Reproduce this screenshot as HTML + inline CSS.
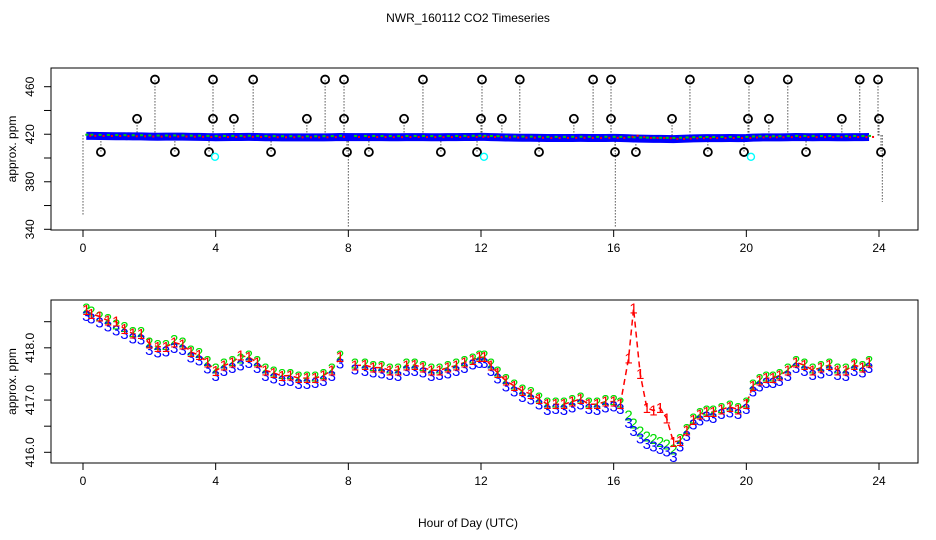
<!DOCTYPE html>
<html><head><meta charset="utf-8"><style>
body{margin:0;background:#fff}
svg{display:block;font-family:"Liberation Sans",sans-serif}
</style></head><body>
<svg id="c" width="936" height="540" viewBox="0 0 936 540">
<text x="468" y="22" text-anchor="middle" font-size="12">NWR_160112  CO2 Timeseries</text>
<text x="468" y="527" text-anchor="middle" font-size="12">Hour of Day (UTC)</text>
<g id="top"></g>
<g id="bot"></g>
</svg>
<script>
const xTicks=[0,4,8,12,16,20,24];
const topTicks=[340,360,380,400,420,440,460];
const topLabels=[340,380,420,460];
const botTicks=[416,416.5,417,417.5,418,418.5];
const botLabels=[416,417,418];
const hours=[0.1,0.25,0.5,0.75,1,1.25,1.5,1.75,2,2.25,2.5,2.75,3,3.25,3.5,3.75,4,4.25,4.5,4.75,5,5.25,5.5,5.75,6,6.25,6.5,6.75,7,7.25,7.5,7.75,
8.2,8.5,8.75,9,9.25,9.5,9.75,10,10.25,10.5,10.75,11,11.25,11.5,11.75,11.95,
12.1,12.3,12.5,12.75,13,13.25,13.5,13.75,14,14.25,14.5,14.75,15,15.25,15.5,15.75,16,16.2,
16.45,16.6,16.8,17,17.2,17.4,17.6,17.8,18,18.2,18.4,18.6,18.8,19,19.25,19.5,19.75,20,20.2,20.4,20.6,20.8,21,21.25,21.5,21.75,22,22.25,22.5,22.75,23,23.25,23.5,23.7];
const green=[418.75,418.7,418.6,418.55,418.45,418.4,418.3,418.3,418.1,418.05,418.05,418.15,418.1,417.95,417.9,417.75,417.6,417.7,417.75,417.8,417.85,417.75,417.6,417.55,417.5,417.5,417.45,417.45,417.45,417.5,417.6,417.85,
417.7,417.7,417.65,417.65,417.6,417.6,417.7,417.7,417.65,417.6,417.6,417.65,417.7,417.75,417.8,417.85,
417.85,417.7,417.55,417.4,417.3,417.2,417.15,417.05,416.95,416.95,416.95,417.0,417.05,416.95,416.95,417.0,417.0,416.95,
416.7,416.55,416.4,416.3,416.25,416.2,416.15,416.05,416.25,416.45,416.65,416.75,416.8,416.8,416.85,416.9,416.85,416.95,417.3,417.4,417.45,417.45,417.5,417.6,417.75,417.7,417.6,417.65,417.7,417.6,417.6,417.7,417.65,417.75];
const blue=[418.63,418.58,418.5,418.43,418.35,418.28,418.2,418.18,417.98,417.93,417.95,418.02,417.98,417.83,417.78,417.62,417.48,417.58,417.63,417.68,417.73,417.63,417.48,417.43,417.38,417.38,417.33,417.33,417.35,417.38,417.48,417.72,
417.6,417.58,417.55,417.53,417.5,417.48,417.58,417.58,417.55,417.48,417.5,417.53,417.58,417.63,417.7,417.73,
417.73,417.58,417.43,417.28,417.18,417.08,417.03,416.93,416.83,416.85,416.83,416.88,416.93,416.85,416.83,416.88,416.9,416.85,
416.58,416.43,416.28,416.18,416.13,416.08,416.03,415.93,416.13,416.33,416.55,416.63,416.7,416.68,416.75,416.78,416.75,416.85,417.18,417.28,417.35,417.35,417.38,417.48,417.63,417.58,417.5,417.53,417.58,417.5,417.48,417.58,417.55,417.63];
const red=[418.72,418.65,418.6,418.52,418.5,418.36,418.27,418.26,418.08,418.02,418.02,418.1,418.06,417.92,417.86,417.72,417.56,417.66,417.72,417.85,417.82,417.72,417.57,417.52,417.46,417.47,417.42,417.42,417.42,417.47,417.57,417.82,
417.66,417.67,417.62,417.62,417.57,417.57,417.66,417.67,417.62,417.57,417.57,417.62,417.66,417.72,417.77,417.82,
417.82,417.66,417.52,417.37,417.27,417.17,417.12,417.02,416.92,416.92,416.92,416.97,417.02,416.92,416.92,416.97,416.97,416.92,
417.8,418.75,417.5,416.85,416.8,416.85,416.65,416.2,416.22,416.42,416.62,416.72,416.77,416.77,416.82,416.87,416.82,416.92,417.27,417.37,417.42,417.42,417.47,417.57,417.72,417.67,417.57,417.62,417.67,417.57,417.57,417.67,417.62,417.72];
const spikeHours=[0.54,1.63,2.17,2.77,3.80,3.92,3.92,4.55,5.13,5.67,6.75,7.30,7.87,7.87,7.96,8.62,9.68,10.25,10.79,11.88,12.0,12.03,12.63,13.17,13.75,14.80,15.38,15.92,15.92,16.04,16.67,17.76,18.30,18.84,19.93,20.05,20.08,20.68,21.25,21.80,22.88,23.42,23.97,24.0,24.06];
const spikeVals=[405,433,466,405,405,433,466,433,466,405,433,466,466,433,405,405,433,466,405,405,433,466,433,466,405,433,466,466,433,405,405,433,466,405,405,433,466,433,466,405,433,466,466,433,405];
const cyanHours=[3.98,12.09,20.14];
const cyanVals=[401,401,401];
const tailHours=[0.0,8.0,16.05,24.1];
const tailVals=[351,342,342,363];

const NS='http://www.w3.org/2000/svg';
function mk(p,t,a){const e=document.createElementNS(NS,t);for(const k in a)e.setAttribute(k,a[k]);p.appendChild(e);return e;}
const X=h=>83+h*(796/24);
const YT=v=>86.7+(460-v)*(142.6/120);
const YB=v=>452.3-(v-416)*(130.6/2.5);
const left=51,right=918;

function panel(g,top,bot,ys,ticks,labels,fmt){
  const r=mk(g,'rect',{x:left,y:top,width:right-left,height:bot-top,fill:'none',stroke:'#000','stroke-width':1});
  
  ticks.forEach(t=>{const l=mk(g,'line',{x1:left,x2:left-7,y1:ys(t),y2:ys(t),stroke:'#000'});});
  labels.forEach(t=>{const y=ys(t);const tx=mk(g,'text',{x:34,y:y,'font-size':12,'text-anchor':'middle',transform:`rotate(-90 34 ${y})`});tx.textContent=fmt(t);});
  xTicks.forEach(h=>{const l=mk(g,'line',{x1:X(h),x2:X(h),y1:bot,y2:bot+7,stroke:'#000'});
    const tx=mk(g,'text',{x:X(h),y:bot+22,'font-size':12,'text-anchor':'middle'});tx.textContent=h;});
  const yc=(top+bot)/2;
  const at=mk(g,'text',{x:16,y:yc,'font-size':12,'text-anchor':'middle',transform:`rotate(-90 16 ${yc})`});at.textContent='approx. ppm';
  
}
const gt=document.getElementById('top'),gb=document.getElementById('bot');
panel(gt,68,230,YT,topTicks,topLabels,t=>t);
panel(gb,300,463,YB,botTicks,botLabels,t=>t.toFixed(1));

tailHours.forEach((h,i)=>{const l=mk(gt,'line',{x1:X(h),x2:X(h),y1:YT(419),y2:YT(tailVals[i]),stroke:'#000','stroke-dasharray':'1 2'});});
spikeHours.forEach((h,i)=>{const l=mk(gt,'line',{x1:X(h),x2:X(h),y1:YT(419),y2:YT(spikeVals[i]),stroke:'#000','stroke-dasharray':'1 2'});});
const bandPts=hours.map((h,i)=>X(h)+','+YT(blue[i])).join(' ');
const band=mk(gt,'polyline',{points:bandPts,fill:'none',stroke:'#0000ff','stroke-width':8});

hours.forEach((h,i)=>{const d=mk(gt,'rect',{x:X(h)-1,y:YT(green[i])-2,width:3,height:2,fill:'#00cc00'});});
hours.forEach((h,i)=>{const d=mk(gt,'rect',{x:X(h)+3,y:YT(Math.min(red[i],419))-1,width:2,height:2,fill:'#ff0000'});});
spikeHours.forEach((h,i)=>{const c=mk(gt,'circle',{cx:X(h),cy:YT(spikeVals[i]),r:4,fill:'none',stroke:'#000','stroke-width':1.8});});
cyanHours.forEach((h,i)=>{const c=mk(gt,'circle',{cx:X(h),cy:YT(cyanVals[i]),r:3.5,fill:'none',stroke:'#00ffff','stroke-width':1.4});});

let seg=[];const segs=[];
hours.forEach((h,i)=>{if(i>0&&h-hours[i-1]>0.35){segs.push(seg);seg=[];}seg.push(X(h)+','+YB(red[i]));});segs.push(seg);
segs.forEach(s=>{const p=mk(gb,'polyline',{points:s.join(' '),fill:'none',stroke:'#ff0000','stroke-width':1.5,'stroke-dasharray':'6 4'});});
function chars(arr,ch,col,nm,dy){hours.forEach((h,i)=>{const t=mk(gb,'text',{x:X(h),y:YB(arr[i])+dy,'font-size':15,fill:col,'text-anchor':'middle'});t.textContent=ch;});}
chars(green,'2','#00dd00','green-series-point',5);
chars(blue,'3','#0000ff','blue-series-point',6);
chars(red,'1','#ff0000','red-series-point',5);
</script>
</body></html>
